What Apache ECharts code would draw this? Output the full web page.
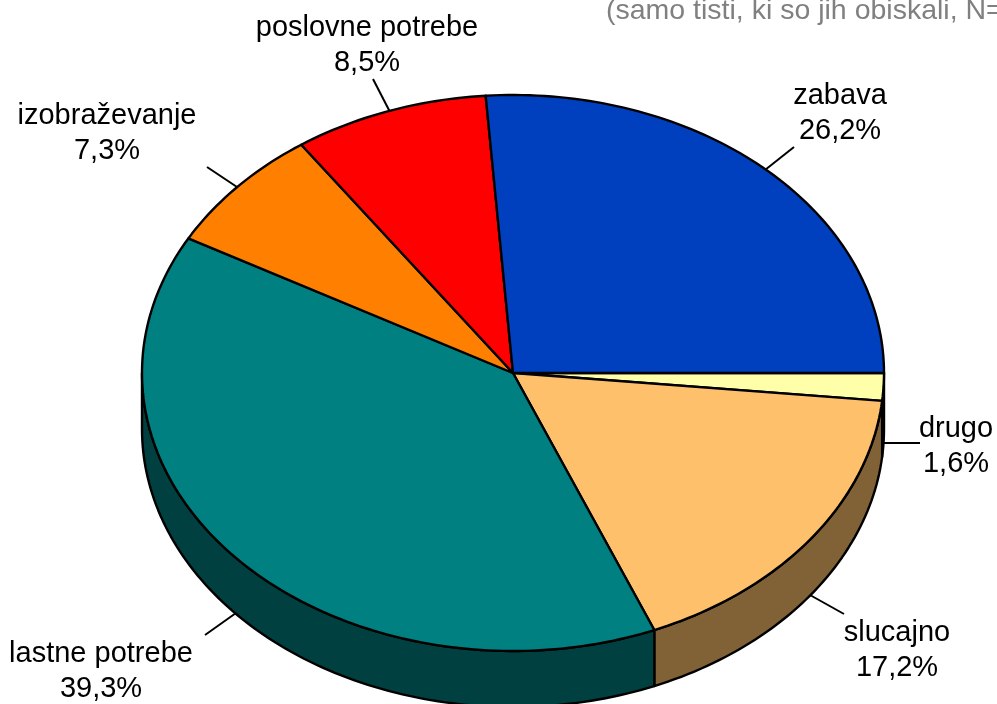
<!DOCTYPE html>
<html>
<head>
<meta charset="utf-8">
<style>html,body{margin:0;padding:0;background:#fff;overflow:hidden}#c{width:997px;height:704px}</style>
<script src="https://cdn.jsdelivr.net/npm/echarts@6/dist/echarts.min.js"></script>
</head>
<body>
<div id="c"></div>
<script>
// clockwise from 3 o'clock
const categories = ['drugo', 'slucajno', 'lastne potrebe', 'izobraževanje', 'poslovne potrebe', 'zabava'];
const values = [1.6, 17.2, 39.3, 7.3, 8.5, 26.2];
const topColors = ['#FFFFAA', '#FFC06C', '#008080', '#FF8000', '#FF0000', '#0040BF'];
const sideColors = ['#808055', '#806236', '#004040', '#804000', '#800000', '#002060'];
const titleText = '(samo tisti, ki so jih obiskali, N=';

// layout only
const CX = 513, CY = 373, RX = 371, RY = 278, DEPTH = 56;
const labelCenters = [[956, 446], [897, 650], [101, 671], [107, 133], [367, 45], [840, 113]];
const leaders = [
  [[883, 443], [920, 443]],
  [[810, 595], [844, 614]],
  [[236, 613], [205, 635]],
  [[237, 187], [207, 167]],
  [[390, 112], [373, 79]],
  [[765, 170], [794, 147]]
];

const total = values.reduce((a, b) => a + b, 0);
const starts = [];
values.reduce((acc, v, i) => { starts[i] = acc; return acc + v; }, 0);
const ang = v => v / total * Math.PI * 2;
const pt = (a, dy) => [CX + RX * Math.cos(a), CY + RY * Math.sin(a) + (dy || 0)];
const arc = (a0, a1, dy) => {
  const n = Math.max(2, Math.ceil((a1 - a0) / 0.02));
  const out = [];
  for (let k = 0; k <= n; k++) out.push(pt(a0 + (a1 - a0) * k / n, dy));
  return out;
};
const lineStyle = { stroke: '#000', lineWidth: 2.4, lineJoin: 'round' };
const seriesData = categories.map((c, i) => ({ name: c, value: values[i] }));

function renderSide(params) {
  const i = params.dataIndex;
  const a0 = ang(starts[i]), a1 = Math.min(ang(starts[i] + values[i]), Math.PI);
  if (a0 >= Math.PI) return null;
  const pts = arc(a0, a1, 0).concat(arc(a0, a1, DEPTH).reverse());
  return { type: 'polygon', shape: { points: pts }, style: Object.assign({ fill: sideColors[i] }, lineStyle) };
}
function renderTop(params) {
  const i = params.dataIndex;
  const a0 = ang(starts[i]), a1 = ang(starts[i] + values[i]);
  const pts = [[CX, CY]].concat(arc(a0, a1, 0));
  return { type: 'polygon', shape: { points: pts }, style: Object.assign({ fill: topColors[i] }, lineStyle) };
}
function renderLabel(params) {
  const i = params.dataIndex;
  const l = leaders[i], c = labelCenters[i];
  return {
    type: 'group',
    children: [
      { type: 'line', shape: { x1: l[0][0], y1: l[0][1], x2: l[1][0], y2: l[1][1] }, style: { stroke: '#000', lineWidth: 2 } },
      { type: 'text', style: {
          x: c[0], y: c[1],
          text: categories[i] + '\n' + values[i].toFixed(1).replace('.', ',') + '%',
          align: 'center', verticalAlign: 'middle',
          font: '29px "Liberation Sans", Arial, sans-serif',
          lineHeight: 35, fill: '#000' } }
    ]
  };
}

const chart = echarts.init(document.getElementById('c'), null, { renderer: 'canvas' });
chart.setOption({
  animation: false,
  backgroundColor: '#fff',
  title: {
    text: titleText, left: 601, top: -8,
    textStyle: { color: '#808080', fontSize: 28.5, fontWeight: 'normal', fontFamily: '"Liberation Sans", Arial, sans-serif' }
  },
  series: [
    { type: 'custom', coordinateSystem: 'none', renderItem: renderLabel, data: seriesData, z: 1, silent: true },
    { type: 'custom', coordinateSystem: 'none', renderItem: renderSide, data: seriesData, z: 2, silent: true },
    { type: 'custom', coordinateSystem: 'none', renderItem: renderTop, data: seriesData, z: 3, silent: true }
  ]
});
</script>
</body>
</html>
